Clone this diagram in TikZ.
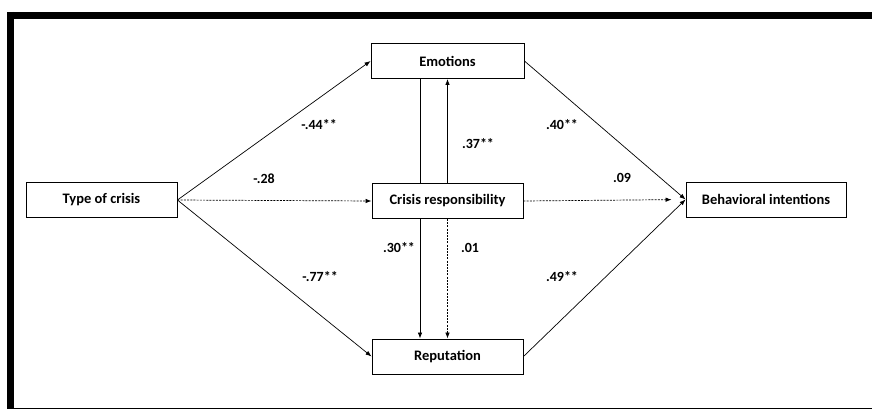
\documentclass[tikz,border=0pt]{standalone}
\usepackage{fontspec}
\setmainfont{Carlito}
\usepackage{tikz}
\usetikzlibrary{arrows.meta, positioning, calc}

\begin{document}
\begin{tikzpicture}[
    x=1pt, y=-1pt,
    var/.style={rectangle, draw, line width=0.9pt, fill=white,
                minimum width=151pt, minimum height=35pt,
                font=\fontsize{14.5}{16}\selectfont\bfseries, align=center},
    coef/.style={font=\fontsize{14}{16}\selectfont\bfseries},
    path/.style={line width=0.7pt, -{Latex[length=6pt,width=4.5pt]}},
    ns/.style={path, dash pattern=on 2pt off 1.2pt}
]
    \useasboundingbox (0,0) rectangle (872,409);

    % Frame
    \draw[line width=7pt] (7,15.5) -- (872,15.5);
    \draw[line width=7pt] (10.5,12) -- (10.5,408);
    \draw[line width=0.8pt] (7,408) -- (872,408);

    % Variables
    \node[var] (type) at (101.5,200) {Type of crisis};
    \node[var, minimum width=153pt] (emo) at (447.5,61) {Emotions};
    \node[var] (rep) at (447.5,356.5) {Reputation};
    \draw[path] ([xshift=-27.5pt]emo.south) -- ([xshift=-27.5pt]rep.north);
    \node[var] (resp) at (447.5,201) {Crisis responsibility};
    \node[var, minimum width=160pt] (beh) at (766,199.5) {Behavioral intentions};

    % Paths
    \draw[path] (type.east) -- (emo.west);
    \draw[ns] (type.east) -- (resp.west);
    \draw[path] (type.east) -- (rep.west);
    \draw[path] (resp.north) -- (emo.south);
    \draw[ns] (resp.south) -- (rep.north);
    \draw[path] (emo.east) -- (beh.west);
    \draw[ns, shorten >=14pt] (resp.east) -- (beh.west);
    \draw[path] (rep.east) -- (beh.west);

    % Coefficients
    \node[coef] (c1) at (319,125) {-.44**};
    \node[coef] (c2) at (264,179) {-.28};
    \node[coef] (c3) at (320,277) {-.77**};
    \node[coef] (c4) at (478,144) {.37**};
    \node[coef] (c5) at (399,248) {.30**};
    \node[coef] (c6) at (470,248) {.01};
    \node[coef] (c7) at (562,125) {.40**};
    \node[coef] (c8) at (622,178) {.09};
    \node[coef] (c9) at (562,277) {.49**};
\end{tikzpicture}
\end{document}
